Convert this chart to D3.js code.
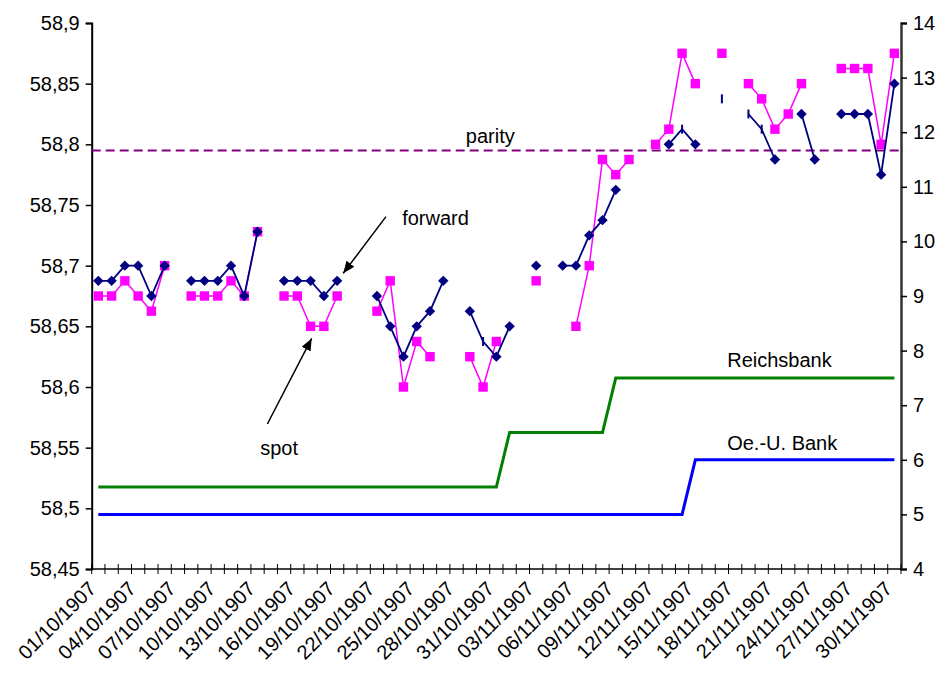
<!DOCTYPE html>
<html><head><meta charset="utf-8">
<script src="https://cdn.jsdelivr.net/npm/d3@7"></script>
<style>body{margin:0;background:#fff}svg{display:block}text{font-family:"Liberation Sans",Arial,sans-serif;fill:#000}</style>
</head><body>
<script>
// ---------- DATA ----------
const dates = ["01/10/1907","02/10/1907","03/10/1907","04/10/1907","05/10/1907","06/10/1907","07/10/1907","08/10/1907","09/10/1907","10/10/1907",
"11/10/1907","12/10/1907","13/10/1907","14/10/1907","15/10/1907","16/10/1907","17/10/1907","18/10/1907","19/10/1907","20/10/1907",
"21/10/1907","22/10/1907","23/10/1907","24/10/1907","25/10/1907","26/10/1907","27/10/1907","28/10/1907","29/10/1907","30/10/1907",
"31/10/1907","01/11/1907","02/11/1907","03/11/1907","04/11/1907","05/11/1907","06/11/1907","07/11/1907","08/11/1907","09/11/1907",
"10/11/1907","11/11/1907","12/11/1907","13/11/1907","14/11/1907","15/11/1907","16/11/1907","17/11/1907","18/11/1907","19/11/1907",
"20/11/1907","21/11/1907","22/11/1907","23/11/1907","24/11/1907","25/11/1907","26/11/1907","27/11/1907","28/11/1907","29/11/1907","30/11/1907"];

const spot = [58.675,58.675,58.6875,58.675,58.6625,58.7,null,58.675,58.675,58.675,
58.6875,58.675,58.728,null,58.675,58.675,58.65,58.65,58.675,null,
null,58.6625,58.6875,58.6,58.6375,58.625,null,null,58.625,58.6,
58.6375,null,null,58.6875,null,null,58.65,58.7,58.7875,58.775,
58.7875,null,58.8,58.8125,58.875,58.85,null,58.875,null,58.85,
58.8375,58.8125,58.825,58.85,null,null,58.8625,58.8625,58.8625,58.8,58.875];

const forward = [58.6875,58.6875,58.7,58.7,58.675,58.7,null,58.6875,58.6875,58.6875,
58.7,58.675,58.728,null,58.6875,58.6875,58.6875,58.675,58.6875,null,
null,58.675,58.65,58.625,58.65,58.6625,58.6875,null,58.6625,58.6375,
58.625,58.65,null,58.7,null,58.7,58.7,58.725,58.7375,58.7625,
null,null,null,58.8,58.8125,58.8,null,58.8375,null,58.825,
58.8125,58.7875,null,58.825,58.7875,null,58.825,58.825,58.825,58.775,58.85];

// forward points drawn with a small dash marker instead of a diamond
const forwardDashIdx = [29,44,47,49,50];

const reichsbank = [5.5,5.5,5.5,5.5,5.5,5.5,5.5,5.5,5.5,5.5,
5.5,5.5,5.5,5.5,5.5,5.5,5.5,5.5,5.5,5.5,
5.5,5.5,5.5,5.5,5.5,5.5,5.5,5.5,5.5,5.5,
5.5,6.5,6.5,6.5,6.5,6.5,6.5,6.5,6.5,7.5,
7.5,7.5,7.5,7.5,7.5,7.5,7.5,7.5,7.5,7.5,
7.5,7.5,7.5,7.5,7.5,7.5,7.5,7.5,7.5,7.5,7.5];

const oeuBank = [5,5,5,5,5,5,5,5,5,5,
5,5,5,5,5,5,5,5,5,5,
5,5,5,5,5,5,5,5,5,5,
5,5,5,5,5,5,5,5,5,5,
5,5,5,5,5,6,6,6,6,6,
6,6,6,6,6,6,6,6,6,6,6];

const parity = 58.795;

const leftTicks = [58.45,58.5,58.55,58.6,58.65,58.7,58.75,58.8,58.85,58.9];
const leftTickLabels = ["58,45","58,5","58,55","58,6","58,65","58,7","58,75","58,8","58,85","58,9"];
const rightTicks = [4,5,6,7,8,9,10,11,12,13,14];
const rightTickLabels = ["4","5","6","7","8","9","10","11","12","13","14"];
const xLabelEvery = 3;

// annotations in data coordinates (category position, value)
const annotations = [
  {text:"parity", i:27.7, v:58.801, axis:"L"},
  {text:"forward", i:22.9, v:58.7335, axis:"L"},
  {text:"spot", i:12.2, v:58.544, axis:"L"},
  {text:"Reichsbank", i:47.4, v:7.7, axis:"R"},
  {text:"Oe.-U. Bank", i:47.4, v:6.18, axis:"R"}
];
const arrows = [
  {from:[21.68,58.7404], to:[18.46,58.6937]},
  {from:[12.74,58.5695], to:[16.08,58.640]}
];

// ---------- CHART ----------
const W=949, H=680;
const plot = {left:91.7, right:901, top:23, bottom:569};
const svg = d3.select("body").append("svg").attr("width",W).attr("height",H);

const x = d3.scaleBand().domain(dates).range([plot.left, plot.right]).padding(0);
const cx = d => x(d) + x.bandwidth()/2;
const ci = i => plot.left + x.step()*(i+0.5);
const yL = d3.scaleLinear().domain([58.45,58.9]).range([plot.bottom, plot.top]);
const yR = d3.scaleLinear().domain([4,14]).range([plot.bottom, plot.top]);

const FS = 20;

// left axis
const axL = svg.append("g").attr("transform",`translate(${plot.left},0)`)
  .call(d3.axisLeft(yL).tickValues(leftTicks).tickFormat((d,i)=>leftTickLabels[i]).tickSizeOuter(0).tickSize(6).tickPadding(6));
axL.selectAll("text").style("font-size",FS+"px").attr("fill","#000");
axL.selectAll("line,path").attr("stroke","#000").attr("stroke-width",1.5);
axL.select(".domain").attr("stroke-width",2);

// right axis
const axR = svg.append("g").attr("transform",`translate(${plot.right},0)`)
  .call(d3.axisRight(yR).tickValues(rightTicks).tickFormat((d,i)=>rightTickLabels[i]).tickSizeOuter(0).tickSize(6).tickPadding(6));
axR.selectAll("text").style("font-size",FS+"px").attr("fill","#000");
axR.selectAll("line,path").attr("stroke","#000").attr("stroke-width",1.5);
axR.select(".domain").attr("stroke","#333").attr("stroke-width",2.5);

// bottom axis
const gx = svg.append("g");
gx.append("line").attr("x1",plot.left).attr("x2",plot.right).attr("y1",plot.bottom).attr("y2",plot.bottom)
  .attr("stroke","#000").attr("stroke-width",1.5);
d3.range(dates.length+1).forEach(k=>{
  const xx = plot.left + k*x.step();
  gx.append("line").attr("x1",xx).attr("x2",xx).attr("y1",plot.bottom-5).attr("y2",plot.bottom+5)
    .attr("stroke","#000").attr("stroke-width",1);
});
dates.forEach((d,i)=>{
  if(i % xLabelEvery !== 0) return;
  gx.append("text").attr("transform",`translate(${cx(d)-6},${plot.bottom+16}) rotate(-45)`)
    .attr("text-anchor","end").attr("dy","0.35em").style("font-size",FS+"px").text(d);
});

// bank lines
const lineR = d3.line().x((v,i)=>cx(dates[i])).y(v=>yR(v));
svg.append("path").attr("d",lineR(reichsbank)).attr("fill","none").attr("stroke","#008000").attr("stroke-width",3);
svg.append("path").attr("d",lineR(oeuBank)).attr("fill","none").attr("stroke","#0000FF").attr("stroke-width",3);

// parity
svg.append("line").attr("x1",plot.left).attr("x2",plot.right).attr("y1",yL(parity)).attr("y2",yL(parity))
  .attr("stroke","#800080").attr("stroke-width",2).attr("stroke-dasharray","9,5");

// spot
const lineL = d3.line().defined(v=>v!==null).x((v,i)=>cx(dates[i])).y(v=>yL(v));
svg.append("path").attr("d",lineL(spot)).attr("fill","none").attr("stroke","#FF00FF").attr("stroke-width",1.5);
svg.selectAll("rect.spot").data(spot.map((v,i)=>({v,i})).filter(d=>d.v!==null)).enter()
  .append("rect").attr("x",d=>cx(dates[d.i])-4.7).attr("y",d=>yL(d.v)-4.7).attr("width",9.4).attr("height",9.4)
  .attr("fill","#FF00FF");

// forward
svg.append("path").attr("d",lineL(forward)).attr("fill","none").attr("stroke","#000080").attr("stroke-width",1.8);
const fpts = forward.map((v,i)=>({v,i})).filter(d=>d.v!==null);
svg.selectAll("path.fwd").data(fpts.filter(d=>!forwardDashIdx.includes(d.i))).enter()
  .append("path").attr("d",d=>{const X=cx(dates[d.i]),Y=yL(d.v),r=5.2;return `M${X},${Y-r}L${X+r},${Y}L${X},${Y+r}L${X-r},${Y}Z`;})
  .attr("fill","#000080");
svg.selectAll("line.fwdd").data(fpts.filter(d=>forwardDashIdx.includes(d.i))).enter()
  .append("line").attr("x1",d=>cx(dates[d.i])).attr("x2",d=>cx(dates[d.i]))
  .attr("y1",d=>yL(d.v)-4.5).attr("y2",d=>yL(d.v)+4.5).attr("stroke","#000080").attr("stroke-width",2);

// arrows
svg.append("defs").append("marker").attr("id","ah").attr("viewBox","0 0 12 10").attr("refX",12).attr("refY",5)
  .attr("markerWidth",12).attr("markerHeight",10).attr("markerUnits","userSpaceOnUse").attr("orient","auto")
  .append("path").attr("d","M0,0L12,5L0,10Z").attr("fill","#000");
arrows.forEach(a=>{
  svg.append("line").attr("x1",ci(a.from[0])).attr("y1",yL(a.from[1])).attr("x2",ci(a.to[0])).attr("y2",yL(a.to[1]))
    .attr("stroke","#000").attr("stroke-width",1.5).attr("marker-end","url(#ah)");
});

// annotation texts
annotations.forEach(a=>{
  svg.append("text").attr("x",ci(a.i)).attr("y",(a.axis==="L"?yL:yR)(a.v)).style("font-size",FS+"px").text(a.text);
});
</script>
</body></html>
